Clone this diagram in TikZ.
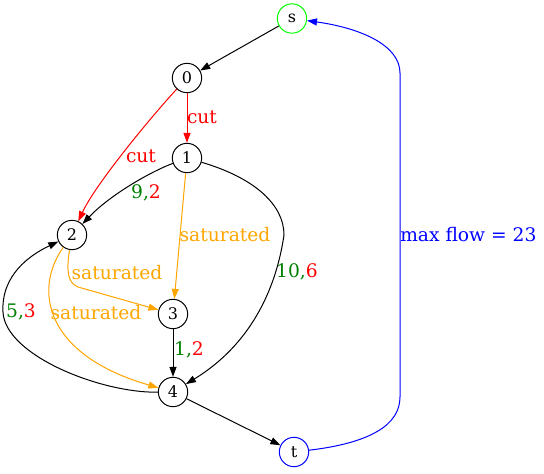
\documentclass[tikz,border=0pt]{standalone}
\usepackage{fontspec}
\setmainfont{DejaVu Serif}
\usepackage{tikz}
\usetikzlibrary{arrows.meta}
\definecolor{flowgreen}{RGB}{0,128,0}
\definecolor{satorange}{RGB}{255,165,0}
\definecolor{srcgreen}{RGB}{0,255,0}

\begin{document}
\begin{tikzpicture}[x=0.75pt,y=-0.75pt,
	vtx/.style={circle,draw,line width=0.75pt,minimum size=22pt,inner sep=0pt,font=\fontsize{12}{14}\selectfont},
	lbl/.style={inner sep=0pt,font=\fontsize{14}{16}\selectfont},
	edge/.style={line width=0.75pt,-{Triangle[length=7.5pt,width=5.3pt]}}]
	\useasboundingbox (0,0) rectangle (544,474);
	\node[vtx,draw=srcgreen] (s) at (292,18.5) {s};
	\node[vtx] (n0) at (187,78) {0};
	\node[vtx] (n1) at (187,158) {1};
	\node[vtx] (n2) at (72,235) {2};
	\node[vtx] (n3) at (173,314) {3};
	\node[vtx] (n4) at (173,392) {4};
	\node[vtx,draw=blue] (t) at (294,452) {t};
	\draw[edge] (s) -- (n0);
	\draw[edge,red] (n0) -- (n1);
	\draw[edge,red] (n0) .. controls (150,118) and (95,185) .. (n2);
	\draw[edge] (n1) .. controls (150,172) and (110,195) .. (n2);
	\draw[edge,satorange] (n1) -- (n3);
	\draw[edge] (n1) .. controls (255,178) and (284,205) .. (284,235) .. controls (276,290) and (250,345) .. (n4);
	\draw[edge,satorange] (n2) .. controls (66,272) and (68,283) .. (78,287) -- (n3);
	\draw[edge,satorange] (n2) .. controls (33,290) and (45,355) .. (n4);
	\draw[edge] (n4) .. controls (100,393) and (5,355) .. (3,312) .. controls (1,275) and (30,255) .. (n2);
	\draw[edge] (n3) -- (n4);
	\draw[edge] (n4) -- (t);
	\draw[edge,blue] (t) .. controls (370,443) and (400,425) .. (400,397) -- (400,73) .. controls (400,45) and (360,28) .. (s);
	% labels
	\node[lbl,red] (l01) at (202,117) {cut};
	\node[lbl,red] (l02) at (141,156) {cut};
	\node[lbl] (l12) at (146,193) {\color{flowgreen}9,\color{red}2};
	\node[lbl,satorange] (l13) at (225,235) {saturated};
	\node[lbl] (l14) at (297,272) {\color{flowgreen}10,\color{red}6};
	\node[lbl,satorange] (l23) at (117,273) {saturated};
	\node[lbl] (l42) at (21,312) {\color{flowgreen}5,\color{red}3};
	\node[lbl,satorange] (l24) at (96,313) {saturated};
	\node[lbl] (l34) at (189,350) {\color{flowgreen}1,\color{red}2};
	\node[lbl,blue,anchor=west] (lts) at (400,235) {max flow = 23};
\end{tikzpicture}
\end{document}
